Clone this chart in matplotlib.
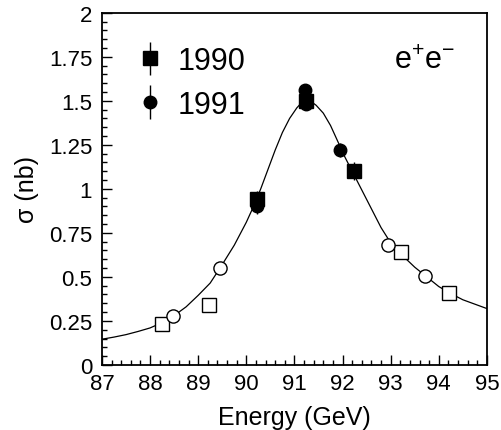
import numpy as np
import matplotlib
matplotlib.use("Agg")
import matplotlib.pyplot as plt
from matplotlib.ticker import MultipleLocator, FixedFormatter, FixedLocator
from matplotlib.legend_handler import HandlerErrorbar

plt.rcParams['font.family'] = ['Liberation Sans', 'DejaVu Sans']
plt.rcParams['mathtext.default'] = 'regular'

# fitted line shape
fit_e = [87.0, 87.25, 87.5, 87.75, 88.0, 88.25, 88.5, 88.75, 89.0, 89.25,
         89.5, 89.75, 90.0, 90.15, 90.3, 90.45, 90.6, 90.75, 90.9, 91.05,
         91.15, 91.25, 91.35, 91.45, 91.6, 91.75, 91.9, 92.05, 92.2, 92.35,
         92.5, 92.65, 92.8, 92.95, 93.1, 93.25, 93.5, 93.75, 94.0, 94.25,
         94.5, 94.75, 95.0]
fit_s = [0.146, 0.158, 0.172, 0.19, 0.21, 0.24, 0.28, 0.33, 0.395, 0.465,
         0.57, 0.68, 0.81, 0.90, 1.0, 1.11, 1.22, 1.32, 1.40, 1.46,
         1.49, 1.50, 1.495, 1.475, 1.43, 1.36, 1.27, 1.18, 1.10, 1.02,
         0.94, 0.86, 0.78, 0.715, 0.665, 0.62, 0.555, 0.50, 0.445, 0.405,
         0.37, 0.345, 0.32]

# 1990 (filled squares)
e90 = [90.22, 91.24, 92.23]
s90 = [0.94, 1.50, 1.10]
err90 = [0.05, 0.03, 0.05]

# 1991 (filled circles)
e91 = [90.22, 91.23, 91.25, 91.94]
s91 = [0.90, 1.56, 1.48, 1.22]
err91 = [0.04, 0.03, 0.03, 0.04]

# open squares / open circles (off-peak points)
e_osq = [88.24, 89.23, 93.22, 94.21]
s_osq = [0.235, 0.34, 0.64, 0.41]
e_oci = [88.47, 89.45, 92.95, 93.72]
s_oci = [0.28, 0.548, 0.68, 0.505]

xticks = [87, 88, 89, 90, 91, 92, 93, 94, 95]
yticks = [0, 0.25, 0.5, 0.75, 1, 1.25, 1.5, 1.75, 2]
ytlabels = ["0", "0.25", "0.5", "0.75", "1", "1.25", "1.5", "1.75", "2"]

fig = plt.figure(figsize=(5.02, 4.31), dpi=100)
ax = fig.add_axes([0.203, 0.151, 0.767, 0.817])

ax.plot(fit_e, fit_s, color="black", lw=0.9, zorder=1)

ax.errorbar(e_osq, s_osq, yerr=0.015, fmt="s", ms=10.5, mfc="white", mec="black",
            mew=1.0, ecolor="black", elinewidth=0.8, zorder=3)
ax.errorbar(e_oci, s_oci, yerr=0.015, fmt="o", ms=9.5, mfc="white", mec="black",
            mew=1.0, ecolor="black", elinewidth=0.8, zorder=3)

ax.errorbar(e90, s90, yerr=err90, fmt="s", ms=10, color="black",
            elinewidth=1.0, zorder=4, label="1990")
ax.errorbar(e91, s91, yerr=err91, fmt="o", ms=9, color="black",
            elinewidth=1.0, zorder=4, label="1991")

ax.set_xlim(87, 95)
ax.set_ylim(0, 2)
ax.xaxis.set_major_locator(FixedLocator(xticks))
ax.xaxis.set_minor_locator(MultipleLocator(0.2))
ax.yaxis.set_major_locator(FixedLocator(yticks))
ax.yaxis.set_major_formatter(FixedFormatter(ytlabels))
ax.yaxis.set_minor_locator(MultipleLocator(0.05))
ax.tick_params(which="both", direction="in", top=False, right=False,
               width=1.0, labelsize=16)
ax.tick_params(which="major", length=7)
ax.tick_params(which="minor", length=3.5)
ax.tick_params(axis="x", pad=6)
ax.tick_params(axis="y", pad=7)
for sp in ax.spines.values():
    sp.set_linewidth(1.3)

ax.set_xlabel("Energy (GeV)", fontsize=18, labelpad=8)
ax.set_ylabel("σ (nb)", fontsize=18, labelpad=7)

ax.text(0.837, 0.865, "e$^{+}$e$^{-}$", transform=ax.transAxes,
        fontsize=22, ha="center", va="center")

leg = ax.legend(loc="upper left", bbox_to_anchor=(0.07, 0.94), frameon=False,
                fontsize=22, handlelength=0.6, handletextpad=0.6,
                labelspacing=0.45, borderaxespad=0,
                handler_map={type(ax.containers[2]): HandlerErrorbar(yerr_size=0.55)})

fig.savefig("out.png", dpi=100)
